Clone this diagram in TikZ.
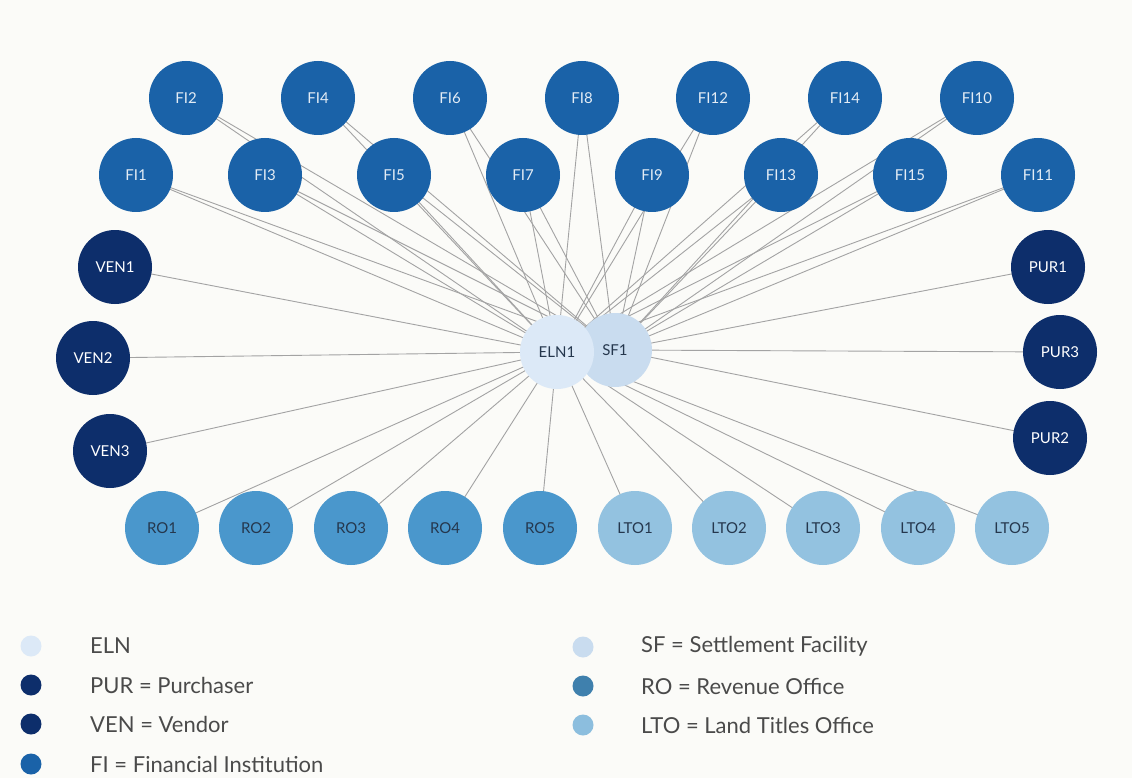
\documentclass[tikz,border=0pt]{standalone}
\usepackage{fontspec}
\setmainfont{Lato}
\usetikzlibrary{backgrounds}
\pgfdeclarelayer{edges}
\pgfsetlayers{background,edges,main}
\definecolor{bgc}{HTML}{FBFBF8}
\definecolor{fic}{HTML}{1A62A8}
\definecolor{navy}{HTML}{0D2E6B}
\definecolor{roc}{HTML}{4A97CC}
\definecolor{ltoc}{HTML}{93C2E0}
\definecolor{elnc}{HTML}{DCE9F7}
\definecolor{sfc}{HTML}{C9DCEF}
\definecolor{edgec}{HTML}{A3A3A3}
\definecolor{darktxt}{HTML}{25374D}
\definecolor{legtxt}{HTML}{4A4A4A}
\tikzset{
  nd/.style={circle, minimum size=74pt, inner sep=0pt, font=\fontsize{15}{15}\selectfont},
  fi/.style={nd, fill=fic, text=white!88!fic},
  party/.style={nd, fill=navy, text=white},
  ro/.style={nd, fill=roc, text=darktxt},
  lto/.style={nd, fill=ltoc, text=darktxt},
  hub/.style={nd, text=darktxt},
  ln/.style={draw=edgec, line width=0.9pt},
  legdot/.style={circle, minimum size=21pt, inner sep=0pt},
  legtext/.style={anchor=west, inner sep=0pt, text=legtxt, font=\fontsize{22}{26}\selectfont},
}
\begin{document}
\begin{tikzpicture}[x=1pt,y=-1pt]
\begin{pgfonlayer}{background}
\fill[bgc] (0,0) rectangle (1132,778);
\end{pgfonlayer}
\useasboundingbox (0,0) rectangle (1132,778);
% hubs
\node[hub, fill=sfc] (SF1) at (615,350) {SF1};
\node[hub, fill=elnc] (ELN1) at (557,352) {ELN1};
% FI top row
\node[fi] (FI2) at (186,98) {FI2};
\node[fi] (FI4) at (318,98) {FI4};
\node[fi] (FI6) at (450,98) {FI6};
\node[fi] (FI8) at (582,98) {FI8};
\node[fi] (FI12) at (713,98) {FI12};
\node[fi] (FI14) at (845,98) {FI14};
\node[fi] (FI10) at (977,98) {FI10};
% FI second row
\node[fi] (FI1) at (136,175) {FI1};
\node[fi] (FI3) at (265,175) {FI3};
\node[fi] (FI5) at (394,175) {FI5};
\node[fi] (FI7) at (523,175) {FI7};
\node[fi] (FI9) at (652,175) {FI9};
\node[fi] (FI13) at (781,175) {FI13};
\node[fi] (FI15) at (910,175) {FI15};
\node[fi] (FI11) at (1038,175) {FI11};
% vendors, purchasers
\node[party] (VEN1) at (115,267) {VEN1};
\node[party] (VEN2) at (93,358) {VEN2};
\node[party] (VEN3) at (110,451) {VEN3};
\node[party] (PUR1) at (1048,267) {PUR1};
\node[party] (PUR3) at (1060,352) {PUR3};
\node[party] (PUR2) at (1050,438) {PUR2};
% bottom row
\node[ro] (RO1) at (162,528) {RO1};
\node[ro] (RO2) at (256,528) {RO2};
\node[ro] (RO3) at (351,528) {RO3};
\node[ro] (RO4) at (445,528) {RO4};
\node[ro] (RO5) at (540,528) {RO5};
\node[lto] (LTO1) at (635,528) {LTO1};
\node[lto] (LTO2) at (729,528) {LTO2};
\node[lto] (LTO3) at (823,528) {LTO3};
\node[lto] (LTO4) at (918,528) {LTO4};
\node[lto] (LTO5) at (1012,528) {LTO5};
% edges
\begin{pgfonlayer}{edges}
\foreach \f in {FI1,FI2,FI3,FI4,FI5,FI6,FI7,FI8,FI9,FI10,FI11,FI12,FI13,FI14,FI15}{
  \draw[ln] (\f.center) -- (ELN1.center);
  \draw[ln] (\f.center) -- (SF1.center);
}
\foreach \v in {VEN1,VEN2,VEN3,RO1,RO2,RO3,RO4,RO5,LTO1,LTO2,LTO3,LTO4,LTO5}{
  \draw[ln] (\v.center) -- (ELN1.center);
}
\foreach \p in {PUR1,PUR2,PUR3}{
  \draw[ln] (\p.center) -- (SF1.center);
}
\end{pgfonlayer}
% legend
\node[legdot, fill=elnc] (L1) at (31,646) {};
\node[legtext] (T1) at (90,646) {ELN};
\node[legdot, fill=navy] (L2) at (31,685) {};
\node[legtext] (T2) at (90,685) {PUR = Purchaser};
\node[legdot, fill=navy] (L3) at (31,724) {};
\node[legtext] (T3) at (90,724) {VEN = Vendor};
\node[legdot, fill=fic] (L4) at (31,764) {};
\node[legtext] (T4) at (90,764) {FI = Financial Institution};
\node[legdot, fill=sfc] (L5) at (583,647) {};
\node[legtext] (T5) at (641,646) {SF = Settlement Facility};
\node[legdot, fill=roc!85!black] (L6) at (583,686) {};
\node[legtext] (T6) at (641,686) {RO = Revenue Office};
\node[legdot, fill=ltoc!90!roc] (L7) at (583,725) {};
\node[legtext] (T7) at (641,725) {LTO = Land Titles Office};
\end{tikzpicture}
\end{document}
